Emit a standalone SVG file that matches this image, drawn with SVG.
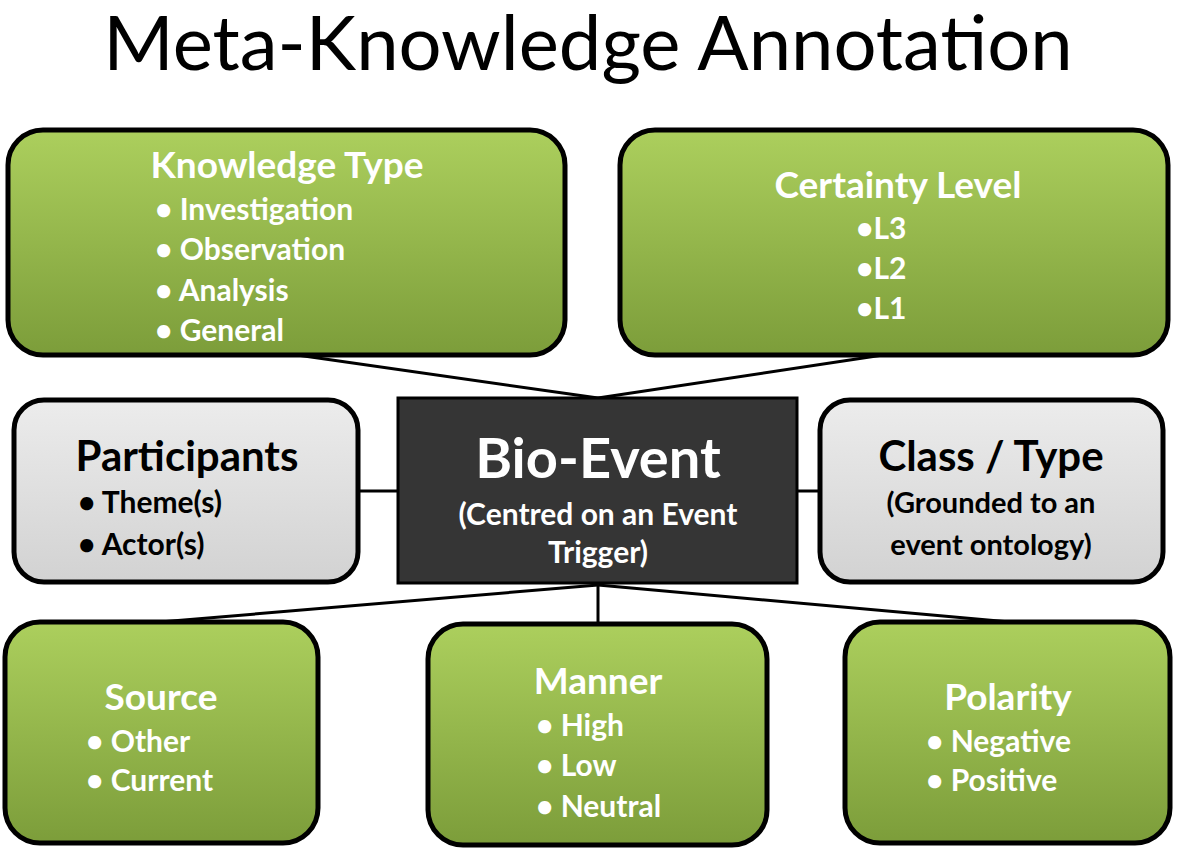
<svg xmlns="http://www.w3.org/2000/svg" width="1180" height="854" viewBox="0 0 1180 854">
<defs>
<linearGradient id="g" x1="0" y1="0" x2="0" y2="1"><stop offset="0" stop-color="#accf5d"/><stop offset="1" stop-color="#7c9d3a"/></linearGradient>
<linearGradient id="s" x1="0" y1="0" x2="0" y2="1"><stop offset="0" stop-color="#ececec"/><stop offset="1" stop-color="#d2d2d2"/></linearGradient>
</defs>
<style>
.gr{fill:url(#g);stroke:#000;stroke-width:5}
.sv{fill:url(#s);stroke:#000;stroke-width:5}
text{font-family:Lato,"Open Sans","Liberation Sans",sans-serif;font-weight:bold}
.w{fill:#fff}.k{fill:#000}
.h{font-size:37px}.i{font-size:30px}.kh{font-size:42px}.ki{font-size:30px}
.c line{stroke:#000;stroke-width:3}
</style>
<text x="588" y="70" text-anchor="middle" style="font-weight:normal;font-size:76px" fill="#000">Meta-Knowledge Annotation</text>
<g class="c">
<line x1="297" y1="355" x2="598" y2="398"/><line x1="883" y1="355" x2="598" y2="398"/>
<line x1="358" y1="491" x2="398" y2="491"/><line x1="797" y1="491" x2="820" y2="491"/>
<line x1="598" y1="585" x2="160" y2="622"/><line x1="598" y1="585" x2="598" y2="624"/><line x1="598" y1="585" x2="1010" y2="622"/>
</g>
<g id="knowledge"><rect class="gr" x="8" y="130" width="557" height="225" rx="35"/>
<text class="w h" x="287" y="178" text-anchor="middle">Knowledge Type</text>
<text class="w i" x="155" y="220">• Investigation</text><text class="w i" x="155" y="260">• Observation</text><text class="w i" x="155" y="301">• Analysis</text><text class="w i" x="155" y="341">• General</text></g>
<g id="certainty"><rect class="gr" x="620" y="130" width="548" height="225" rx="35"/>
<text class="w h" x="898" y="198" text-anchor="middle">Certainty Level</text>
<text class="w i" x="856" y="239">•L3</text><text class="w i" x="856" y="279">•L2</text><text class="w i" x="856" y="319">•L1</text></g>
<g id="participants"><rect class="sv" x="14" y="400" width="344" height="182" rx="30"/>
<text class="k kh" x="187" y="471" text-anchor="middle">Participants</text>
<text class="k ki" x="78" y="513">• Theme(s)</text><text class="k ki" x="78" y="555">• Actor(s)</text></g>
<g id="bioevent"><rect x="398" y="398" width="399" height="185" fill="#353535" stroke="#000" stroke-width="3"/>
<text class="w" x="598" y="478" text-anchor="middle" style="font-size:56px">Bio-Event</text>
<text class="w" x="598" y="525" text-anchor="middle" style="font-size:30px">(Centred on an Event</text>
<text class="w" x="598" y="563" text-anchor="middle" style="font-size:30px">Trigger)</text></g>
<g id="classtype"><rect class="sv" x="820" y="400" width="343" height="182" rx="30"/>
<text class="k kh" x="991" y="471" text-anchor="middle">Class / Type</text>
<text class="k" x="991" y="513" text-anchor="middle" style="font-size:29px">(Grounded to an</text>
<text class="k" x="991" y="555" text-anchor="middle" style="font-size:29px">event ontology)</text></g>
<g id="source"><rect class="gr" x="5" y="622" width="313" height="221" rx="35"/>
<text class="w h" x="161" y="710" text-anchor="middle">Source</text>
<text class="w i" x="86" y="752">• Other</text><text class="w i" x="86" y="791">• Current</text></g>
<g id="manner"><rect class="gr" x="428" y="624" width="339" height="221" rx="35"/>
<text class="w h" x="598" y="694" text-anchor="middle">Manner</text>
<text class="w i" x="536" y="736">• High</text><text class="w i" x="536" y="776">• Low</text><text class="w i" x="536" y="817">• Neutral</text></g>
<g id="polarity"><rect class="gr" x="845" y="622" width="325" height="221" rx="35"/>
<text class="w h" x="1008" y="710" text-anchor="middle">Polarity</text>
<text class="w i" x="926" y="752">• Negative</text><text class="w i" x="926" y="791">• Positive</text></g>
</svg>
